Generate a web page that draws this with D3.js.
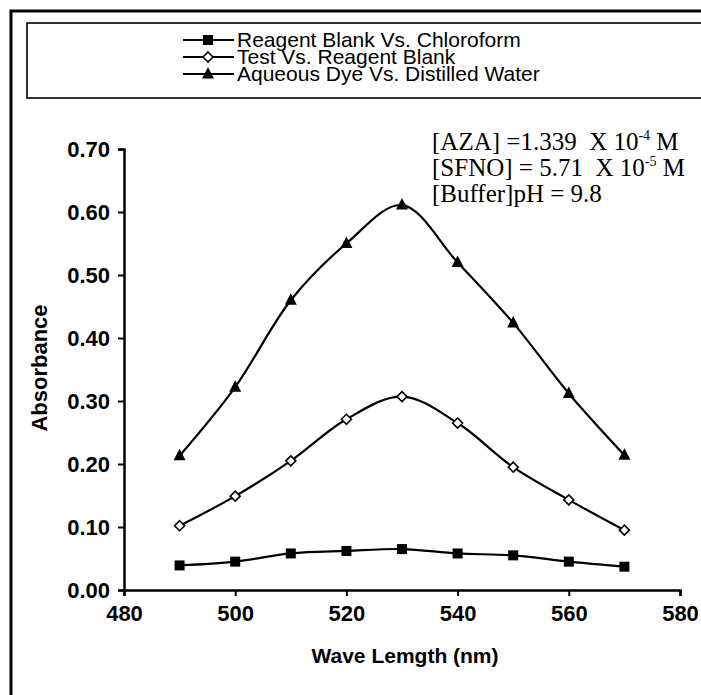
<!DOCTYPE html>
<html>
<head>
<meta charset="utf-8">
<script src="https://cdn.jsdelivr.net/npm/d3@7"></script>
<style>
  body { margin: 0; background: white; }
  svg { display: block; }
  .tick text { font-family: "Liberation Sans", Arial, sans-serif; font-weight: bold; font-size: 22px; fill: #000; }
</style>
</head>
<body>
<div id="container"></div>
<script>
let w = 701;
let h = 695;

// data
let wavelengths = [490, 500, 510, 520, 530, 540, 550, 560, 570];
let reagentBlank = [0.039, 0.045, 0.058, 0.062, 0.065, 0.058, 0.055, 0.045, 0.037];
let testVsBlank = [0.102, 0.149, 0.205, 0.271, 0.307, 0.265, 0.195, 0.143, 0.095];
let aqueousDye = [0.213, 0.322, 0.460, 0.550, 0.611, 0.520, 0.424, 0.312, 0.214];
let seriesNames = ["Reagent Blank Vs. Chloroform", "Test Vs. Reagent Blank", "Aqueous Dye Vs. Distilled Water"];
let markerTypes = ["square", "diamond", "triangle"];
let xTicks = [480, 500, 520, 540, 560, 580];
let yTicks = [0, 0.1, 0.2, 0.3, 0.4, 0.5, 0.6, 0.7];
let notes = [["[AZA] =1.339  X 10", "-4", " M"], ["[SFNO] = 5.71  X 10", "-5", " M"], ["[Buffer]pH = 9.8", "", ""]];

let allSeries = [reagentBlank, testVsBlank, aqueousDye];

let viz = d3.select("#container").append("svg")
    .attr("width", w)
    .attr("height", h);

// outer frame and legend box
viz.append("path")
  .attr("d", "M11," + h + " L11,11 L" + (w + 5) + ",11")
  .attr("fill", "none").attr("stroke", "#000").attr("stroke-width", 3);
viz.append("rect")
  .attr("x", 27).attr("y", 23).attr("width", w).attr("height", 75)
  .attr("fill", "none").attr("stroke", "#000").attr("stroke-width", 1.6);

let xScale = d3.scaleLinear().domain([480, 580]).range([124, 680]);
let yScale = d3.scaleLinear().domain([0, 0.7]).range([590, 149]);

let xAxis = d3.axisBottom(xScale).tickValues(xTicks).tickFormat(d3.format("d")).tickSizeInner(6).tickSizeOuter(6).tickPadding(9);
let yAxis = d3.axisLeft(yScale).tickValues(yTicks).tickFormat(d3.format(".2f")).tickSizeInner(6).tickSizeOuter(6).tickPadding(8);

let xAxisGroup = viz.append("g").attr("transform", "translate(0," + yScale(0) + ")").call(xAxis);
let yAxisGroup = viz.append("g").attr("transform", "translate(" + xScale(480) + ",0)").call(yAxis);
viz.selectAll(".domain").attr("stroke", "#000").attr("stroke-width", 2.5);
viz.selectAll(".tick line").attr("stroke", "#000").attr("stroke-width", 2);

// axis titles
viz.append("text")
  .text("Wave Lemgth (nm)")
  .attr("x", 405).attr("y", 663)
  .attr("text-anchor", "middle")
  .style("font-family", "Liberation Sans, Arial, sans-serif")
  .style("font-weight", "bold").style("font-size", "21px");
viz.append("text")
  .text("Absorbance")
  .attr("transform", "translate(47,368) rotate(-90)")
  .attr("text-anchor", "middle")
  .style("font-family", "Liberation Sans, Arial, sans-serif")
  .style("font-weight", "bold").style("font-size", "22px");

// lines
let line = d3.line()
  .x((d, i) => xScale(wavelengths[i]))
  .y(d => yScale(d))
  .curve(d3.curveCatmullRom.alpha(0.5));

let graphGroup = viz.append("g");
allSeries.forEach(function(s) {
  graphGroup.append("path")
    .attr("d", line(s))
    .attr("fill", "none").attr("stroke", "#000").attr("stroke-width", 2.2);
});

function drawMarker(g, type) {
  if (type == "square") {
    g.append("rect").attr("x", -5).attr("y", -5).attr("width", 10).attr("height", 10).attr("fill", "#000");
  } else if (type == "diamond") {
    g.append("path").attr("d", "M0,-5 L5,0 L0,5 L-5,0 Z").attr("fill", "#fff").attr("stroke", "#000").attr("stroke-width", 1.6);
  } else {
    g.append("path").attr("d", "M0,-7 L6,4.5 L-6,4.5 Z").attr("fill", "#000");
  }
}

allSeries.forEach(function(s, k) {
  s.forEach(function(v, i) {
    let g = graphGroup.append("g").attr("transform", "translate(" + xScale(wavelengths[i]) + "," + yScale(v) + ")");
    drawMarker(g, markerTypes[k]);
  });
});

// legend
seriesNames.forEach(function(name, k) {
  let yy = 40 + k * 17;
  viz.append("line").attr("x1", 183).attr("x2", 234).attr("y1", yy).attr("y2", yy)
    .attr("stroke", "#000").attr("stroke-width", 2);
  let g = viz.append("g").attr("transform", "translate(208," + yy + ")");
  drawMarker(g, markerTypes[k]);
  viz.append("text").text(name)
    .attr("x", 237).attr("y", yy + 7)
    .style("font-family", "Liberation Sans, Arial, sans-serif")
    .style("font-size", "21px");
});

// annotation
notes.forEach(function(n, k) {
  let t = viz.append("text")
    .attr("x", 432).attr("y", 150 + k * 26)
    .style("white-space", "pre")
    .style("font-family", "Liberation Serif, Times New Roman, serif")
    .style("font-size", "25px");
  t.append("tspan").text(n[0]);
  if (n[1]) {
    t.append("tspan").text(n[1]).attr("dy", -10).style("font-size", "14px");
    t.append("tspan").text(n[2]).attr("dy", 10);
  }
});
</script>
</body>
</html>
